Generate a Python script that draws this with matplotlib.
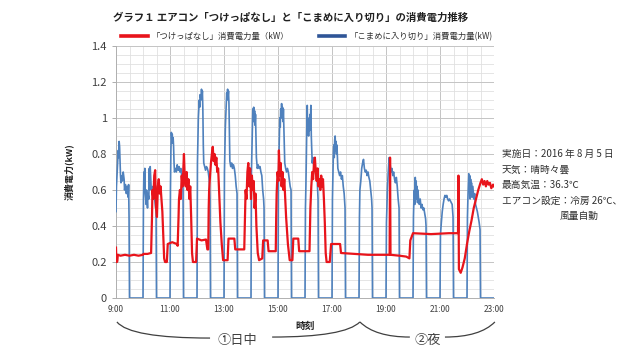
import matplotlib
matplotlib.use("Agg")
import matplotlib.pyplot as plt
import matplotlib.transforms as mtransforms
from matplotlib.lines import Line2D
from matplotlib.path import Path
from matplotlib.patches import PathPatch
from matplotlib.ticker import MultipleLocator

plt.rcParams['font.family'] = ['Noto Sans CJK JP', 'DejaVu Sans']

# time in minutes after 9:00, power in kW
tick_pos = [0, 120, 240, 360, 480, 600, 720, 840]
tick_labels = ['9:00', '11:00', '13:00', '15:00', '17:00', '19:00', '21:00', '23:00']

# 「つけっぱなし」 (always on)
red_min = [0, 1, 2, 3, 4, 10, 20, 30, 40, 50, 60, 61, 70, 78,
           80, 81, 83, 85, 87, 89, 91, 93, 95, 97, 99, 101, 103, 105, 107, 109, 113, 115, 125, 135, 137,
           139, 140, 142, 144, 146, 148, 150, 151, 153, 155, 157, 159, 161, 163, 165, 167, 169, 171, 178,
           180, 190, 200, 203, 205,
           206, 207, 209, 211, 213, 215, 217, 219, 221, 223, 225, 227, 229, 232, 235, 238, 248, 250, 263,
           265, 285,
           287, 288, 290, 292, 294, 296, 298, 300, 302, 304, 306, 308, 310, 312, 315, 318, 325, 327, 337,
           339, 355,
           356, 357, 359, 361, 362, 364, 366, 368, 370, 372, 374, 376, 378, 382, 386, 392, 394, 405, 407, 430,
           432, 434, 436, 438, 440, 442, 444, 446, 448, 450, 452, 454, 456, 458, 460, 462, 464, 466, 468,
           475, 478, 498, 500,
           530, 560, 590, 608, 609, 610, 630, 645, 652, 654, 660, 700, 740, 760, 761, 762, 766, 770, 775,
           780, 785, 790, 795, 800, 805, 810, 813, 816, 819, 822, 825, 828, 831, 834, 838, 840]
red_kw = [0.28, 0.2, 0.2, 0.205, 0.24, 0.235, 0.24, 0.235, 0.24, 0.235, 0.24, 0.245, 0.245, 0.25,
          0.45, 0.6, 0.55, 0.68, 0.71, 0.5, 0.45, 0.62, 0.66, 0.58, 0.62, 0.55, 0.48, 0.35, 0.22, 0.2, 0.2, 0.3, 0.31, 0.3, 0.29,
          0.45, 0.55, 0.6, 0.55, 0.68, 0.62, 0.75, 0.8, 0.65, 0.62, 0.7, 0.6, 0.66, 0.55, 0.62, 0.45, 0.25, 0.2, 0.2,
          0.33, 0.32, 0.325, 0.27, 0.27,
          0.5, 0.6, 0.68, 0.75, 0.8, 0.84, 0.76, 0.8, 0.74, 0.78, 0.7, 0.72, 0.6, 0.42, 0.3, 0.21, 0.21, 0.33, 0.33,
          0.27, 0.27,
          0.5, 0.6, 0.55, 0.7, 0.75, 0.62, 0.72, 0.55, 0.68, 0.6, 0.65, 0.5, 0.58, 0.4, 0.25, 0.21, 0.22, 0.32, 0.32,
          0.26, 0.26,
          0.45, 0.58, 0.7, 0.65, 0.82, 0.68, 0.75, 0.62, 0.7, 0.6, 0.66, 0.55, 0.45, 0.3, 0.21, 0.21, 0.33, 0.33, 0.26, 0.26,
          0.5, 0.62, 0.7, 0.66, 0.75, 0.78, 0.7, 0.65, 0.72, 0.62, 0.66, 0.6, 0.68, 0.62, 0.66, 0.55, 0.42, 0.25, 0.2,
          0.2, 0.3, 0.3, 0.25,
          0.245, 0.24, 0.24, 0.24, 0.78, 0.24, 0.235, 0.23, 0.22, 0.32, 0.36, 0.355, 0.36, 0.36, 0.68, 0.16, 0.14, 0.17, 0.22,
          0.3, 0.37, 0.43, 0.5, 0.55, 0.6, 0.64, 0.66, 0.63, 0.65, 0.62, 0.65, 0.63, 0.64, 0.61, 0.63, 0.62]

# 「こまめに入り切り」 (switched on and off every 30 minutes)
blue_min = [0, 1, 3, 5, 6, 7, 8, 10, 11, 13, 14, 16, 18, 19, 21, 23, 25, 27, 28, 29, 30,
            60, 61, 62, 63, 64, 65, 67, 68, 70, 71, 73, 74, 75, 76, 78, 80, 82, 84, 86, 88, 89, 90,
            120, 121, 122, 123, 124, 125, 126, 127, 128, 129, 130, 132, 134, 136, 138, 140, 142, 144, 146, 148, 149, 150,
            180, 181, 183, 185, 186, 187, 189, 190, 191, 192, 193, 194, 195, 197, 199, 201, 203, 205, 207, 208, 209, 210,
            240, 241, 243, 245, 246, 247, 248, 249, 250, 251, 252, 253, 255, 257, 259, 261, 263, 265, 267, 269, 270,
            300, 301, 303, 304, 305, 306, 307, 308, 309, 310, 311, 312, 314, 316, 318, 320, 322, 324, 326, 328, 329, 330,
            360, 361, 363, 364, 365, 366, 367, 368, 369, 370, 371, 372, 373, 374, 375, 377, 379, 381, 383, 385, 387, 389, 390,
            420, 421, 422, 423, 424, 425, 426, 427, 428, 429, 430, 431, 432, 433, 434, 435, 436, 438, 440, 442, 444, 446, 448, 449, 450,
            480, 481, 482, 483, 484, 485, 486, 487, 488, 489, 490, 491, 492, 493, 495, 497, 499, 501, 503, 505, 507, 509, 510,
            540, 541, 542, 544, 546, 548, 550, 552, 554, 556, 558, 560, 562, 564, 566, 568, 569, 570,
            600, 601, 602, 603, 605, 607, 609, 611, 613, 615, 617, 619, 621, 623, 625, 627, 629, 630,
            660, 661, 662, 663, 664, 665, 666, 667, 668, 669, 670, 671, 672, 674, 676, 678, 680, 682, 684, 686, 688, 689, 690,
            720, 721, 723, 725, 727, 729, 731, 733, 735, 737, 739, 741, 743, 745, 747, 749, 750,
            780, 781, 782, 784, 785, 786, 787, 788, 789, 790, 791, 793, 795, 797, 799, 801, 803, 805, 807, 809, 810,
            840]
blue_kw = [0.48, 0.62, 0.72, 0.82, 0.78, 0.87, 0.84, 0.68, 0.64, 0.68, 0.65, 0.7, 0.66, 0.6, 0.63, 0.58, 0.62, 0.56, 0.63, 0.45, 0.0,
           0.0, 0.55, 0.7, 0.6, 0.72, 0.58, 0.52, 0.6, 0.5, 0.58, 0.55, 0.72, 0.6, 0.73, 0.62, 0.6, 0.62, 0.58, 0.55, 0.5, 0.5, 0.0,
           0.0, 0.6, 0.82, 0.92, 0.88, 0.91, 0.86, 0.89, 0.84, 0.75, 0.7, 0.72, 0.7, 0.74, 0.71, 0.73, 0.7, 0.72, 0.68, 0.66, 0.6, 0.0,
           0.0, 0.75, 1.0, 1.1, 1.06, 1.13, 1.1, 1.16, 1.12, 1.15, 1.05, 0.85, 0.75, 0.73, 0.71, 0.73, 0.72, 0.7, 0.66, 0.62, 0.55, 0.0,
           0.0, 0.7, 0.95, 1.08, 1.14, 1.1, 1.16, 1.12, 1.15, 1.08, 0.9, 0.76, 0.73, 0.75, 0.72, 0.74, 0.72, 0.68, 0.62, 0.58, 0.0,
           0.0, 0.7, 0.95, 1.05, 0.98, 1.06, 1.0, 1.04, 0.96, 1.02, 0.9, 0.78, 0.72, 0.74, 0.72, 0.73, 0.7, 0.68, 0.6, 0.55, 0.5, 0.0,
           0.0, 0.68, 0.9, 1.0, 0.95, 1.05, 1.0, 1.08, 1.02, 1.06, 0.98, 1.05, 0.95, 0.85, 0.75, 0.72, 0.7, 0.72, 0.7, 0.66, 0.62, 0.6, 0.0,
           0.0, 0.5, 0.62, 0.8, 0.95, 1.07, 0.92, 0.98, 0.9, 1.0, 0.93, 1.02, 0.95, 1.07, 0.9, 0.82, 0.75, 0.78, 0.72, 0.74, 0.7, 0.72, 0.6, 0.55, 0.0,
           0.0, 0.55, 0.68, 0.8, 0.85, 0.78, 0.88, 0.9, 0.82, 0.87, 0.8, 0.85, 0.78, 0.72, 0.7, 0.68, 0.7, 0.66, 0.68, 0.62, 0.58, 0.5, 0.0,
           0.0, 0.45, 0.6, 0.65, 0.72, 0.75, 0.77, 0.72, 0.7, 0.71, 0.68, 0.7, 0.67, 0.65, 0.6, 0.55, 0.5, 0.0,
           0.0, 0.42, 0.5, 0.6, 0.7, 0.78, 0.75, 0.7, 0.72, 0.68, 0.7, 0.66, 0.64, 0.67, 0.62, 0.55, 0.5, 0.0,
           0.0, 0.45, 0.55, 0.6, 0.52, 0.67, 0.58, 0.65, 0.55, 0.62, 0.53, 0.6, 0.56, 0.52, 0.55, 0.5, 0.52, 0.49, 0.5, 0.47, 0.44, 0.4, 0.0,
           0.0, 0.35, 0.42, 0.48, 0.52, 0.55, 0.57, 0.56, 0.57, 0.55, 0.54, 0.55, 0.54, 0.53, 0.52, 0.45, 0.0,
           0.0, 0.45, 0.55, 0.69, 0.6, 0.68, 0.55, 0.66, 0.6, 0.64, 0.56, 0.62, 0.55, 0.58, 0.52, 0.5, 0.48, 0.45, 0.42, 0.38, 0.0,
           0.0]

red_name = '「つけっぱなし」消費電力量（kW）'
blue_name = '「こまめに入り切り」消費電力量(kW)'
notes = ['実施日：2016 年 8 月 5 日', '天気：晴時々曇', '最高気温：36.3℃', 'エアコン設定：冷房 26℃、']

red_color = '#e8141b'
blue_color = '#4f81bd'

fig = plt.figure(figsize=(6.4, 3.57), dpi=100)
ax = fig.add_axes([116/640, 1-298/357, 378/640, 252/357])

ax.plot(blue_min, blue_kw, color=blue_color, lw=1.2, zorder=3)
ax.plot(red_min, red_kw, color=red_color, lw=1.6, zorder=4)

ax.set_xlim(0, 840)
ax.set_ylim(0, 1.4)
ax.set_xticks(tick_pos)
ax.set_xticklabels(tick_labels, fontsize=6, color='#404040')
ax.xaxis.set_minor_locator(MultipleLocator(30))
ax.set_yticks([0, 0.2, 0.4, 0.6, 0.8, 1.0, 1.2, 1.4])
ax.set_yticklabels(['0', '0.2', '0.4', '0.6', '0.8', '1', '1.2', '1.4'])
ax.yaxis.set_minor_locator(MultipleLocator(0.05))
ax.tick_params(axis='y', labelsize=8, labelcolor='#404040', color='#a0a0a0', length=3, width=0.6)
ax.tick_params(axis='y', which='minor', length=0)
ax.tick_params(axis='x', which='both', length=0, pad=5)

ax.grid(which='major', color='#c4c4c4', lw=0.7)
ax.grid(which='minor', color='#e0e0e0', lw=0.6)
ax.set_axisbelow(True)
for s in ['top', 'right']:
    ax.spines[s].set_visible(False)
for s in ['left', 'bottom']:
    ax.spines[s].set_color('#b0b0b0')
    ax.spines[s].set_linewidth(0.7)

ax.set_xlabel('時刻', fontsize=7, fontweight='bold', color='#202020')
ax.xaxis.set_label_coords(0.5, -0.09)
ax.set_ylabel('消費電力(kW)', fontsize=6.5, fontweight='bold', color='#202020')
ax.yaxis.set_label_coords(-0.11, 0.5)

handles = [Line2D([], [], color=red_color, lw=2.6),
           Line2D([], [], color='#2f5597', lw=2.6)]
ax.legend(handles, [red_name, blue_name], loc='lower left', bbox_to_anchor=(0.0, 1.0),
          ncol=2, frameon=False, fontsize=6, handlelength=3.2, columnspacing=3.5,
          borderaxespad=0.2, handletextpad=0.5, labelcolor='#303030')

fig.text(113/640, 1-18/357, 'グラフ１ エアコン「つけっぱなし」と「こまめに入り切り」の消費電力推移',
         fontsize=7.5, fontweight='bold', va='center', color='#202020')

# notes on the right
for i, line in enumerate(notes):
    fig.text(502/640, 1-(154+15.5*i)/357, line, fontsize=7, va='center', color='#303030')
fig.text(560/640, 1-216/357, '風量自動', fontsize=7, va='center', color='#303030')

# braces below the time axis
trans = mtransforms.blended_transform_factory(ax.transData, ax.transAxes)
curves = [[(2, -0.095), (31, -0.159), (209, -0.159)],
          [(347, -0.155), (509, -0.155), (542, -0.095)],
          [(542, -0.095), (576, -0.155), (653, -0.155)],
          [(731, -0.155), (809, -0.155), (842, -0.095)]]
for pts in curves:
    p = Path(pts, [Path.MOVETO, Path.CURVE3, Path.CURVE3])
    ax.add_patch(PathPatch(p, fill=False, edgecolor='#404040', lw=0.9, transform=trans, clip_on=False))
ax.text(269, -0.167, '①日中', transform=trans, ha='center', va='center', fontsize=9.5, color='#404040')
ax.text(693, -0.167, '②夜', transform=trans, ha='center', va='center', fontsize=9.5, color='#404040')

fig.savefig('out.png', dpi=100, facecolor='white')
